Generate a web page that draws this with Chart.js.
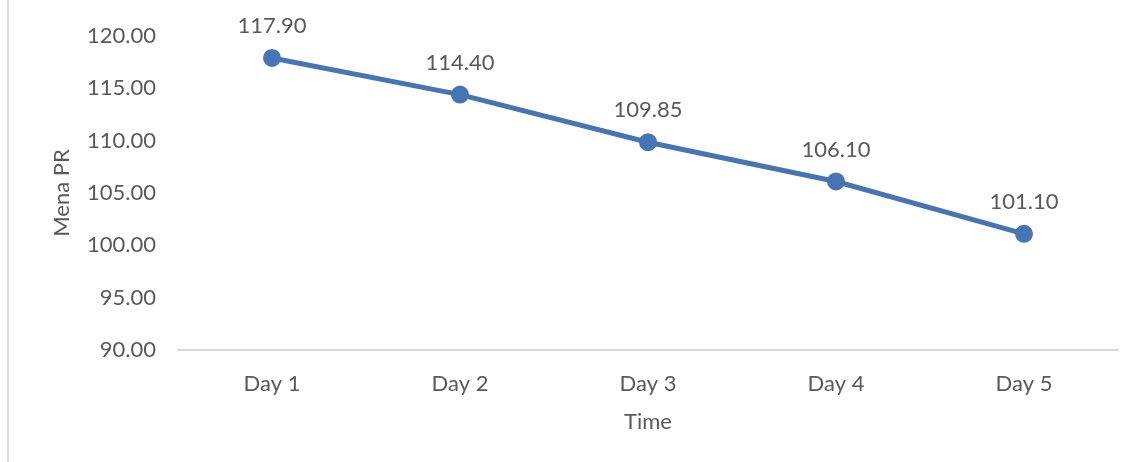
<!DOCTYPE html>
<html>
<head>
<meta charset="utf-8">
<script src="https://cdn.jsdelivr.net/npm/chart.js@4"></script>
<style>
  html, body { margin: 0; padding: 0; background: #fff; }
  #wrap { position: relative; width: 1140px; height: 462px; }
  #wrap::before { content: ''; position: absolute; left: 7px; top: 0; bottom: 0; width: 2px; background: #d9d9d9; }
</style>
</head>
<body>
<div id="wrap"><canvas id="prChart" width="1140" height="462"></canvas></div>
<script>
const days = ['Day 1', 'Day 2', 'Day 3', 'Day 4', 'Day 5'];
const meanPR = [117.90, 114.40, 109.85, 106.10, 101.10];
const yMin = 90;
const yMax = 120;
const yStep = 5;

const lineBlue = '#4674b4';
const textGrey = '#595959';
const fontFamily = 'Lato, "Open Sans", sans-serif';

// draws the value above each point, like Excel data labels
const valueLabels = {
  id: 'valueLabels',
  afterDatasetsDraw(chart) {
    const ctx = chart.ctx;
    const meta = chart.getDatasetMeta(0);
    ctx.save();
    ctx.font = '22px ' + fontFamily;
    ctx.fillStyle = textGrey;
    ctx.textAlign = 'center';
    ctx.textBaseline = 'middle';
    meta.data.forEach((pt, i) => {
      ctx.fillText(meanPR[i].toFixed(2), pt.x, pt.y - 32);
    });
    ctx.restore();
  }
};

const ctx = document.getElementById('prChart').getContext('2d');
const chart = new Chart(ctx, {
  type: 'line',
  data: {
    labels: days,
    datasets: [{
      label: 'Mena PR',
      data: meanPR,
      borderColor: lineBlue,
      backgroundColor: lineBlue,
      borderWidth: 5,
      pointRadius: 6.5,
      pointHoverRadius: 6.5,
      tension: 0,
      fill: false
    }]
  },
  options: {
    responsive: false,
    animation: false,
    layout: { padding: { top: 36, right: 22, left: 0, bottom: 0 } },
    plugins: {
      legend: { display: false },
      tooltip: { enabled: false }
    },
    scales: {
      x: {
        offset: true,
        grid: { display: false, drawTicks: false },
        border: { display: true, color: '#d9d9d9', width: 2 },
        ticks: { color: textGrey, font: { family: fontFamily, size: 22 }, padding: 21 },
        title: { display: true, text: 'Time', color: textGrey, font: { family: fontFamily, size: 22 }, padding: { top: 0, bottom: 27 } },
        afterFit(scale) { scale.height = 112; }
      },
      y: {
        min: yMin,
        max: yMax,
        grid: { display: false, drawTicks: false },
        border: { display: false },
        ticks: {
          stepSize: yStep,
          color: textGrey,
          font: { family: fontFamily, size: 22 },
          padding: 22,
          callback: v => v.toFixed(2)
        },
        title: { display: true, text: 'Mena PR', color: textGrey, font: { family: fontFamily, size: 22 }, padding: { top: 49, bottom: 0 } },
        afterFit(scale) { scale.width = 178; }
      }
    }
  },
  plugins: [valueLabels]
});
</script>
</body>
</html>
